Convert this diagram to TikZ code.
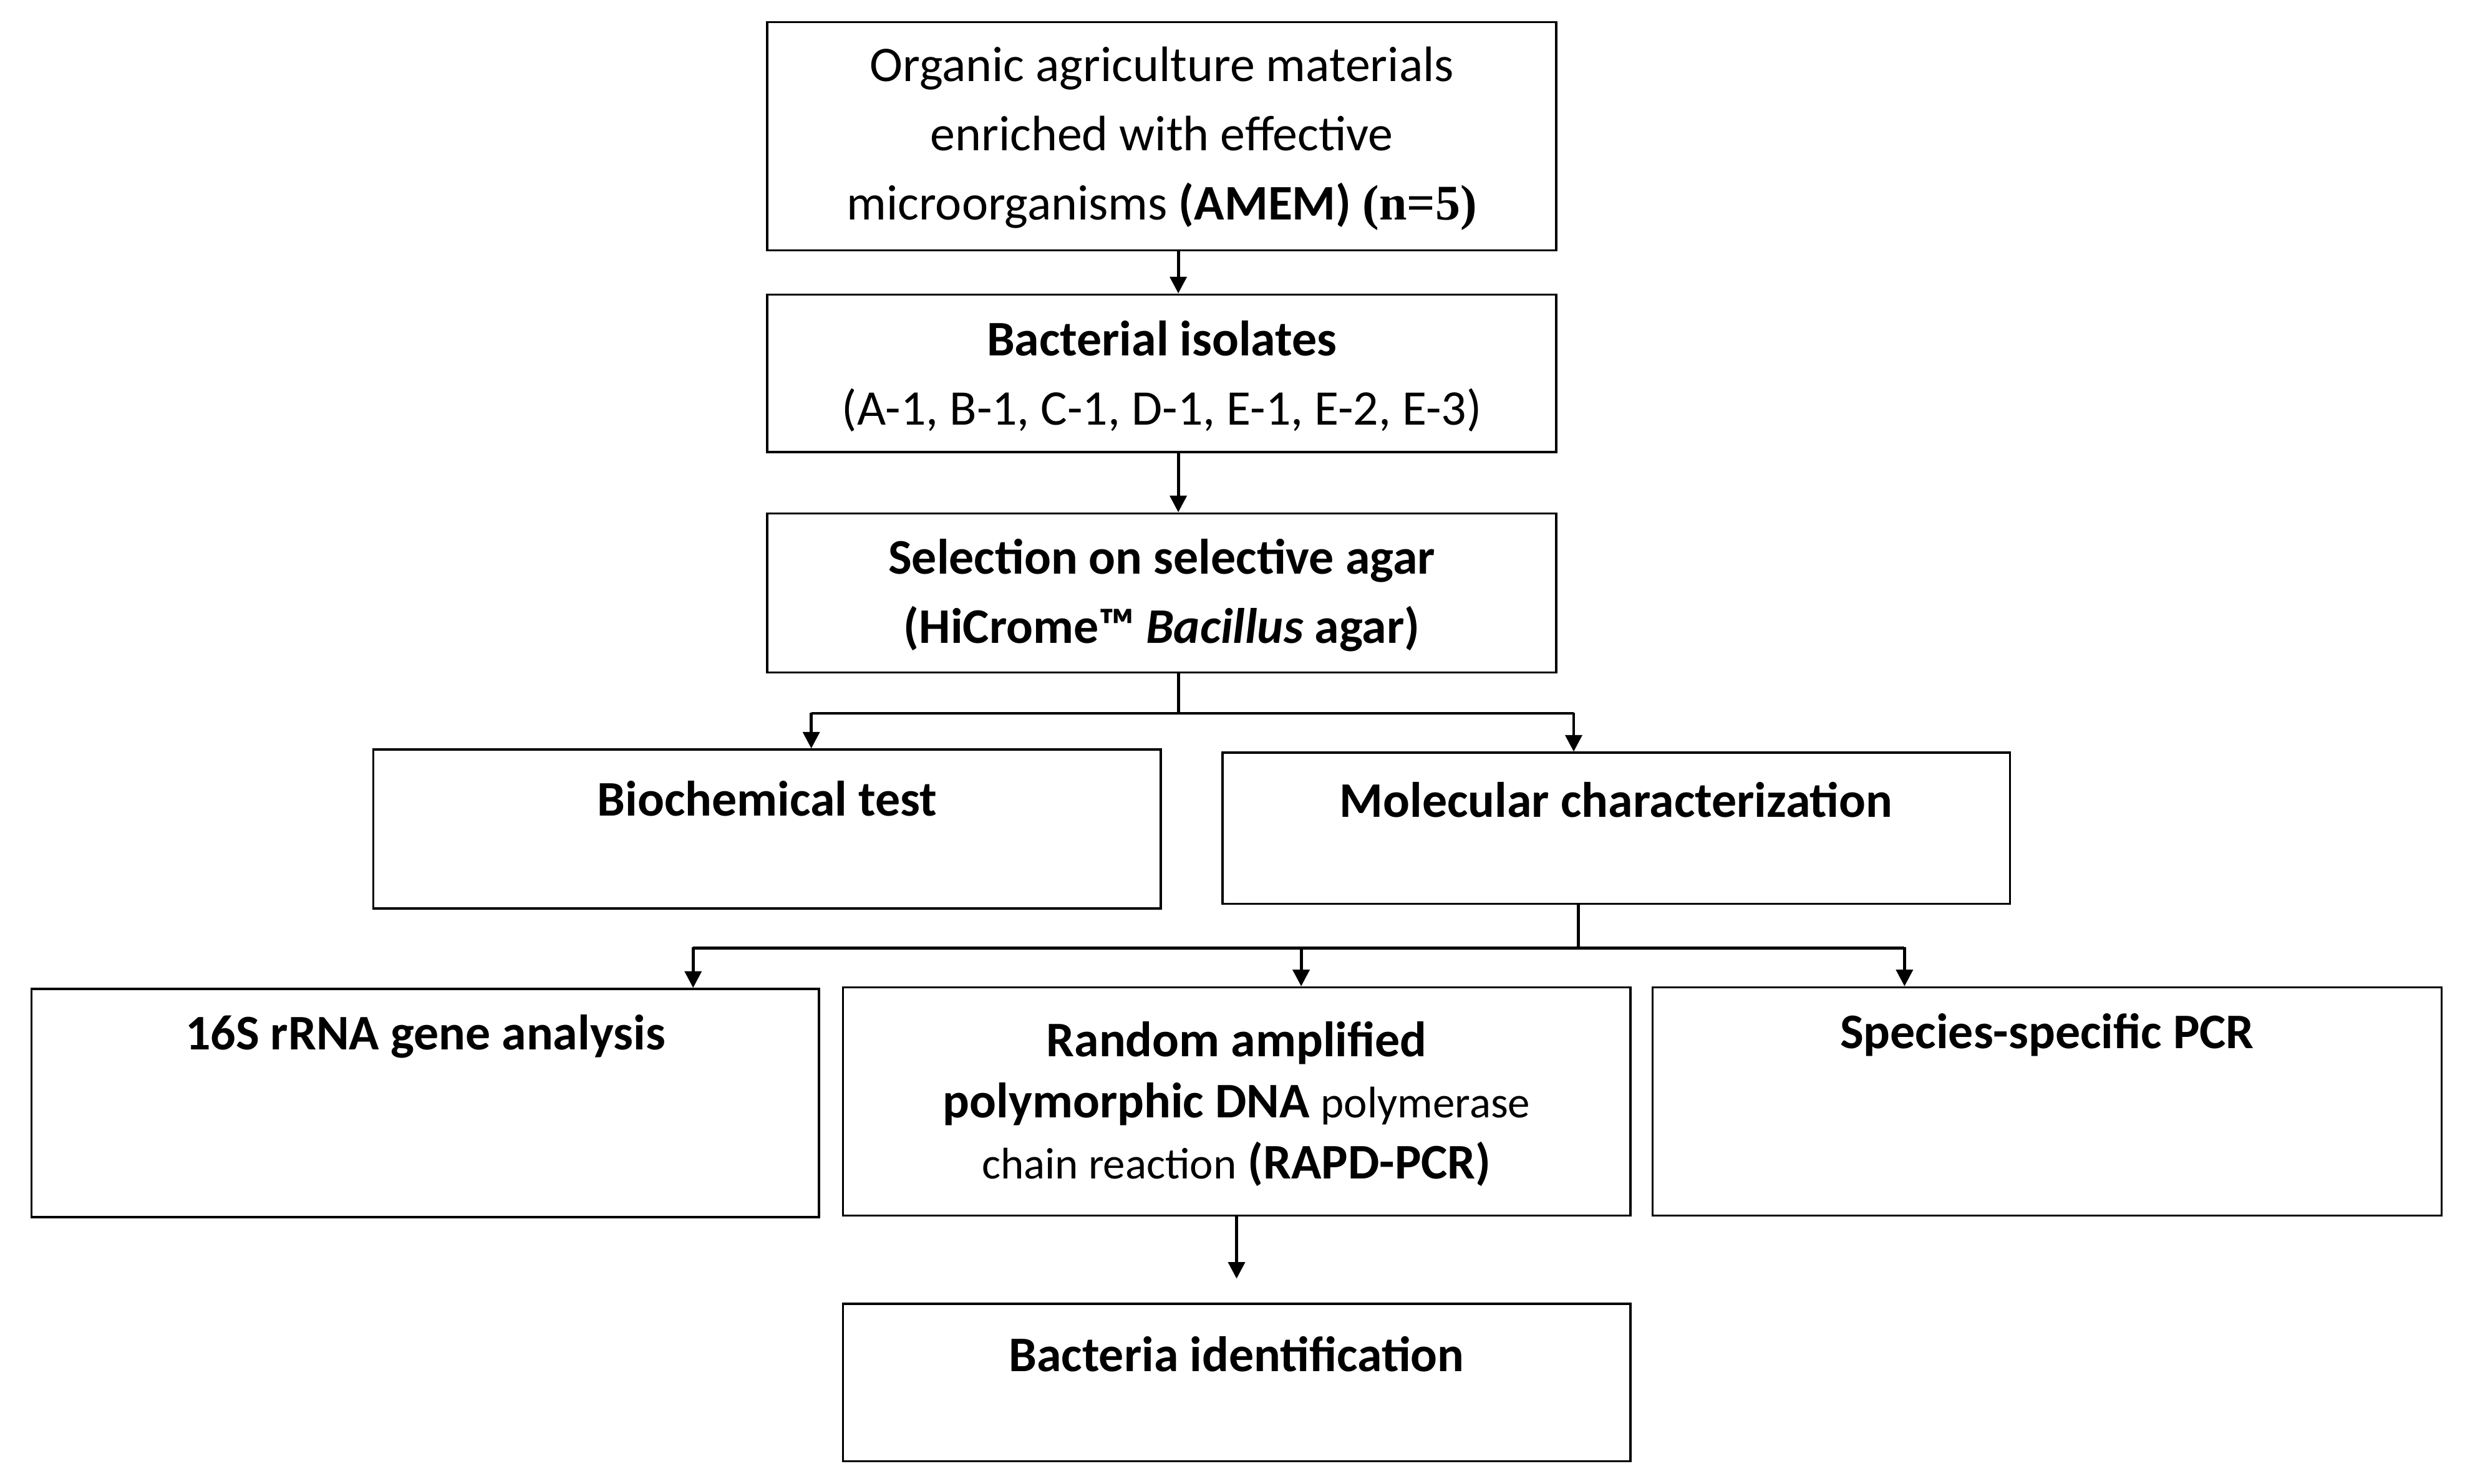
\documentclass[tikz,border=0pt]{standalone}
\usepackage{fontspec}
\setmainfont{Carlito}
\newfontfamily\serifb{Liberation Serif}
\usetikzlibrary{arrows.meta}
\tikzset{
  box/.style={draw=black, line width=0.8pt, inner sep=0pt},
  txt/.style={align=center, inner sep=0pt, font=\fontsize{18}{25}\selectfont},
  arrow/.style={line width=1.1pt, -{Triangle[length=6pt,width=6pt]}},
  line/.style={line width=1.1pt}
}
\begin{document}
\begin{tikzpicture}[x=0.02cm, y=-0.02cm]
  \useasboundingbox (0,0) rectangle (1568,942);
  % boxes
  \node (b1) [box, minimum width=10.02cm, minimum height=2.9cm] at (737.5,86.5) {};
  \node (b2) [box, minimum width=10.02cm, minimum height=2cm] at (737.5,237) {};
  \node (b3) [box, minimum width=10.02cm, minimum height=2.02cm] at (737.5,376.5) {};
  \node (b4) [box, minimum width=10cm, minimum height=2.02cm] at (487,526.5) {};
  \node (b5) [box, minimum width=10cm, minimum height=1.92cm] at (1026,526) {};
  \node (b6) [box, minimum width=10cm, minimum height=2.9cm] at (270,700.5) {};
  \node (b7) [box, minimum width=10cm, minimum height=2.9cm] at (785,699.5) {};
  \node (b8) [box, minimum width=10.02cm, minimum height=2.9cm] at (1299.5,699.5) {};
  \node (b9) [box, minimum width=10cm, minimum height=2cm] at (785,878) {};
  % texts
  \node (t1) [txt] at (737.5,88) {Organic agriculture materials\\enriched with effective\\microorganisms \textbf{(AMEM)} {\serifb\bfseries (n=5)}};
  \node (t2) [txt] at (737.5,239) {\textbf{Bacterial isolates}\\(A-1, B-1, C-1, D-1, E-1, E-2, E-3)};
  \node (t3) [txt, font=\fontsize{18}{25}\selectfont\bfseries] at (737.5,378) {Selection on selective agar\\(HiCrome™ \textit{Bacillus} agar)};
  \node (t4) [txt, font=\fontsize{18}{25}\selectfont\bfseries] at (487,507) {Biochemical test};
  \node (t5) [txt, font=\fontsize{18}{25}\selectfont\bfseries] at (1026,508) {Molecular characterization};
  \node (t6) [txt, font=\fontsize{18}{25}\selectfont\bfseries] at (270,658) {16S rRNA gene analysis};
  \node (t7) [txt, font=\fontsize{18}{22}\selectfont] at (785,701) {\textbf{Random amplified}\\\textbf{polymorphic DNA} {\fontsize{16}{22}\selectfont polymerase}\\{\fontsize{16}{22}\selectfont chain reaction} \textbf{(RAPD-PCR)}};
  \node (t8) [txt, font=\fontsize{18}{25}\selectfont\bfseries] at (1299.5,657) {Species-specific PCR};
  \node (t9) [txt, font=\fontsize{18}{25}\selectfont\bfseries] at (785,860) {Bacteria identification};
  % connectors
  \draw[arrow] (b1.south -| 748,0) -- (b2.north -| 748,0);
  \draw[arrow] (b2.south -| 748,0) -- (b3.north -| 748,0);
  \coordinate (s1) at (748,453);
  \draw[line] (b3.south -| s1) -- (s1);
  \draw[line] (515,453) -- (999,453);
  \draw[arrow] (515,452.5) -- (b4.north -| 515,0);
  \draw[arrow] (999,452.5) -- (b5.north -| 999,0);
  \coordinate (s2) at (1002,602);
  \draw[line] (b5.south -| s2) -- (s2);
  \draw[line] (440,602) -- (1209,602);
  \draw[arrow] (440,601.5) -- (b6.north -| 440,0);
  \draw[arrow] (826,601.5) -- (b7.north -| 826,0);
  \draw[arrow] (1209,601.5) -- (b8.north -| 1209,0);
  \draw[arrow] (b7.south -| 785,0) -- (785,812);
\end{tikzpicture}
\end{document}
